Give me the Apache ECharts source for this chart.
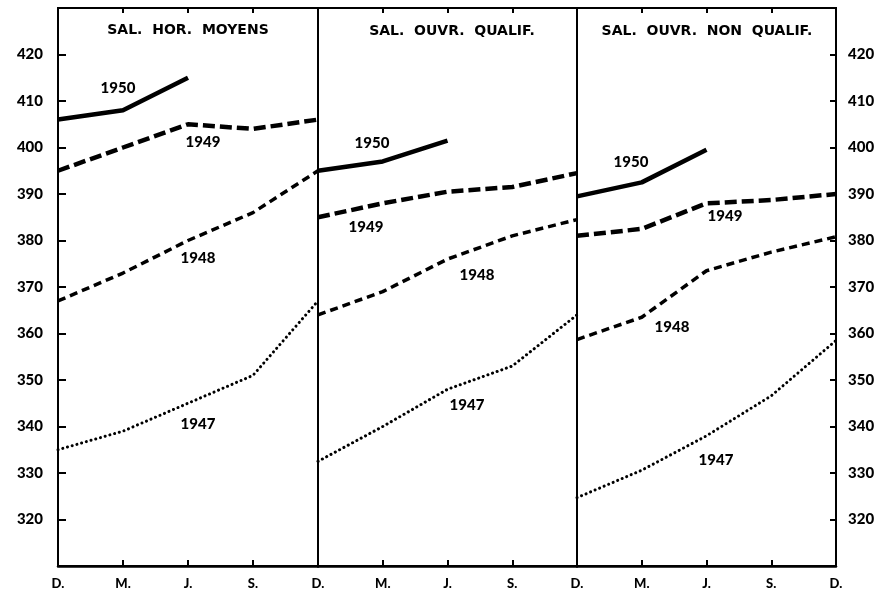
<!DOCTYPE html>
<html>
<head>
<meta charset="utf-8">
<script src="https://cdn.jsdelivr.net/npm/echarts@6/dist/echarts.min.js"></script>
<style>
  html, body { margin: 0; padding: 0; background: #fff; }
  #chart { width: 883px; height: 593px; }
</style>
</head>
<body>
<div id="chart"></div>
<script>
// categories: D. M. J. S. D. (déc. -> déc.)
var months = ['D.', 'M.', 'J.', 'S.', 'D.'];
var panelTitles = ['SAL.  HOR.  MOYENS', 'SAL.  OUVR.  QUALIF.', 'SAL.  OUVR.  NON  QUALIF.'];
var yMin = 310, yMax = 430, yStep = 10;

// salaires horaires moyens
var hor1950 = [406, 408, 415];
var hor1949 = [395, 400, 405, 404, 406];
var hor1948 = [367, 373, 380, 386, 395];
var hor1947 = [335, 339, 345, 351, 367];
// ouvriers qualifies
var qual1950 = [395, 397, 401.5];
var qual1949 = [385, 388, 390.5, 391.5, 394.5];
var qual1948 = [364, 369, 376, 381, 384.5];
var qual1947 = [332.5, 340, 348, 353, 364];
// ouvriers non qualifies
var nonq1950 = [389.5, 392.5, 399.5];
var nonq1949 = [381, 382.5, 388, 388.7, 390];
var nonq1948 = [358.7, 363.5, 373.5, 377.5, 380.8];
var nonq1947 = [324.7, 330.6, 338, 346.6, 358.5];

var panels = [
  [hor1950, hor1949, hor1948, hor1947],
  [qual1950, qual1949, qual1948, qual1947],
  [nonq1950, nonq1949, nonq1948, nonq1947]
];
var years = ['1950', '1949', '1948', '1947'];

(function () {
  var myChart = echarts.init(document.getElementById('chart'));
  var numFont = 'Lato, "DejaVu Sans", sans-serif';

  // styles des courbes par annee
  var lineStyles = [
    { color: '#000', width: 4.5, type: 'solid' },
    { color: '#000', width: 4.5, type: [12, 5] },
    { color: '#000', width: 3.5, type: [8, 5] },
    { color: '#000', width: 3, type: [0.1, 4.8], cap: 'round' }
  ];

  var grids = [
    { left: 58, width: 260, top: 8, bottom: 27 },
    { left: 318, width: 259, top: 8, bottom: 27 },
    { left: 577, width: 259, top: 8, bottom: 27 }
  ];
  grids.forEach(function (g) {
    g.show = true;
    g.borderColor = '#000';
    g.borderWidth = 2;
    g.containLabel = false;
  });

  var xAxis = [], yAxis = [], series = [];
  grids.forEach(function (g, gi) {
    // axe du bas avec etiquettes
    xAxis.push({
      type: 'category', gridIndex: gi, data: months, boundaryGap: false,
      axisLine: { show: true, lineStyle: { color: '#000', width: 2.5 } },
      axisTick: { show: true, inside: true, length: 6, lineStyle: { color: '#000', width: 2 } },
      axisLabel: {
        color: '#000', fontFamily: numFont, fontWeight: 900, fontSize: 13, margin: 11,
        formatter: function (v, i) { return (i === 4 && gi < 2) ? '' : v; }
      },
      splitLine: { show: false }
    });
    // graduations du haut
    xAxis.push({
      type: 'category', gridIndex: gi, data: months, boundaryGap: false, position: 'top',
      axisLine: { show: true, lineStyle: { color: '#000', width: 2 } },
      axisTick: { show: true, inside: true, length: 5, lineStyle: { color: '#000', width: 2 } },
      axisLabel: { show: false },
      splitLine: { show: false }
    });
    yAxis.push({
      type: 'value', gridIndex: gi, min: yMin, max: yMax, interval: yStep,
      position: gi === 2 ? 'right' : 'left',
      axisLine: { show: gi !== 1, lineStyle: { color: '#000', width: 2 } },
      axisTick: { show: gi !== 1, inside: true, length: gi === 2 ? 6 : 8, lineStyle: { color: '#000', width: 2 } },
      axisLabel: {
        show: gi !== 1,
        color: '#000', fontFamily: numFont, fontWeight: 900, fontSize: 15,
        margin: gi === 2 ? 12 : 15,
        formatter: function (v) { return (v <= yMin || v >= yMax) ? '' : v; }
      },
      splitLine: { show: false }
    });
    panels[gi].forEach(function (data, si) {
      series.push({
        name: years[si],
        type: 'line',
        xAxisIndex: gi * 2,
        yAxisIndex: gi,
        data: data,
        symbol: 'none',
        showSymbol: false,
        lineStyle: lineStyles[si],
        silent: true,
        z: 3
      });
    });
  });

  // titres et etiquettes d'annees
  var titlePos = [[188, 30], [452, 31], [707, 31]];
  var yearPos = [
    [[118, 88], [203, 142], [198, 258], [198, 424]],
    [[372, 143], [366, 227], [477, 275], [467, 405]],
    [[631, 162], [725, 216], [672, 327], [716, 460]]
  ];
  var graphic = [];
  panelTitles.forEach(function (t, i) {
    graphic.push({
      type: 'text', x: titlePos[i][0], y: titlePos[i][1],
      style: {
        text: t, fill: '#000', align: 'center', verticalAlign: 'middle',
        font: 'bold 14px "DejaVu Sans", sans-serif'
      }
    });
  });
  yearPos.forEach(function (list) {
    list.forEach(function (p, si) {
      graphic.push({
        type: 'text', x: p[0], y: p[1],
        style: {
          text: years[si], fill: '#000', align: 'center', verticalAlign: 'middle',
          font: '900 15px Lato, "DejaVu Sans", sans-serif'
        }
      });
    });
  });

  var option = {
    backgroundColor: '#fff',
    animation: false,
    grid: grids,
    xAxis: xAxis,
    yAxis: yAxis,
    series: series,
    graphic: graphic
  };
  myChart.setOption(option);
  window.addEventListener('resize', () => myChart.resize());
})();
</script>
</body>
</html>
